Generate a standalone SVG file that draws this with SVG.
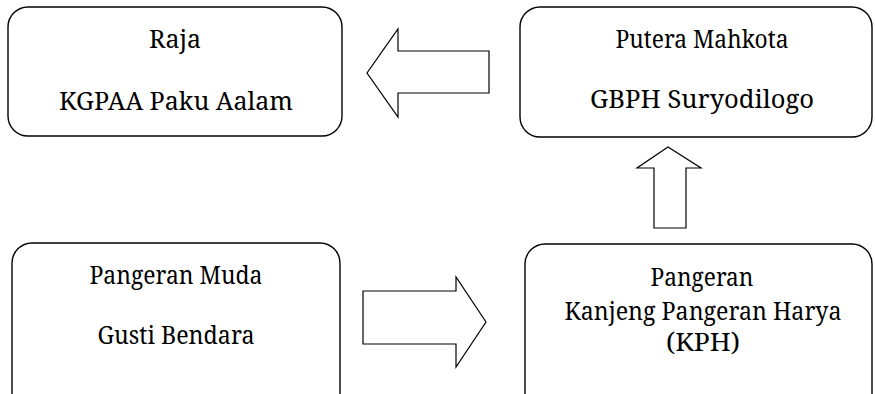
<svg xmlns="http://www.w3.org/2000/svg" width="875" height="394" viewBox="0 0 875 394">
<style>
.box{fill:#fff;stroke:#000;stroke-width:1.4}
.arr{fill:#fff;stroke:#000;stroke-width:1.2;stroke-linejoin:miter}
text{font-family:"Noto Serif","DejaVu Serif",serif;font-size:25px;fill:#000;text-anchor:middle}
</style>
<rect width="875" height="394" fill="#fff"/>
<g id="raja">
<rect class="box" x="8" y="7" width="334" height="129" rx="20"/>
<text x="175" y="48" textLength="52" lengthAdjust="spacingAndGlyphs">Raja</text>
<text x="176" y="110" textLength="234" lengthAdjust="spacingAndGlyphs">KGPAA Paku Aalam</text>
</g>
<g id="putera">
<rect class="box" x="520" y="7" width="352" height="130" rx="20"/>
<text x="702" y="48" textLength="173" lengthAdjust="spacingAndGlyphs">Putera Mahkota</text>
<text x="702" y="108" textLength="224" lengthAdjust="spacingAndGlyphs">GBPH Suryodilogo</text>
</g>
<g id="muda">
<rect class="box" x="12" y="243" width="328" height="170" rx="20"/>
<text x="176" y="284" textLength="173" lengthAdjust="spacingAndGlyphs">Pangeran Muda</text>
<text x="176" y="344" textLength="157" lengthAdjust="spacingAndGlyphs">Gusti Bendara</text>
</g>
<g id="kph">
<rect class="box" x="525" y="244" width="347" height="170" rx="20"/>
<text x="702" y="286" textLength="103" lengthAdjust="spacingAndGlyphs">Pangeran</text>
<text x="703" y="320" textLength="277" lengthAdjust="spacingAndGlyphs">Kanjeng Pangeran Harya</text>
<text x="703" y="351" textLength="74" lengthAdjust="spacingAndGlyphs">(KPH)</text>
</g>
<g id="connectors">
<polygon class="arr" points="489,51 398,51 398,29 367,73 398,117 398,93 489,93"/>
<polygon class="arr" points="363,291 456,291 456,277 486,322 456,367 456,344 363,344"/>
<polygon class="arr" points="654,228 654,168 637,168 668,147 701,168 686,168 686,228"/>
</g>
</svg>
